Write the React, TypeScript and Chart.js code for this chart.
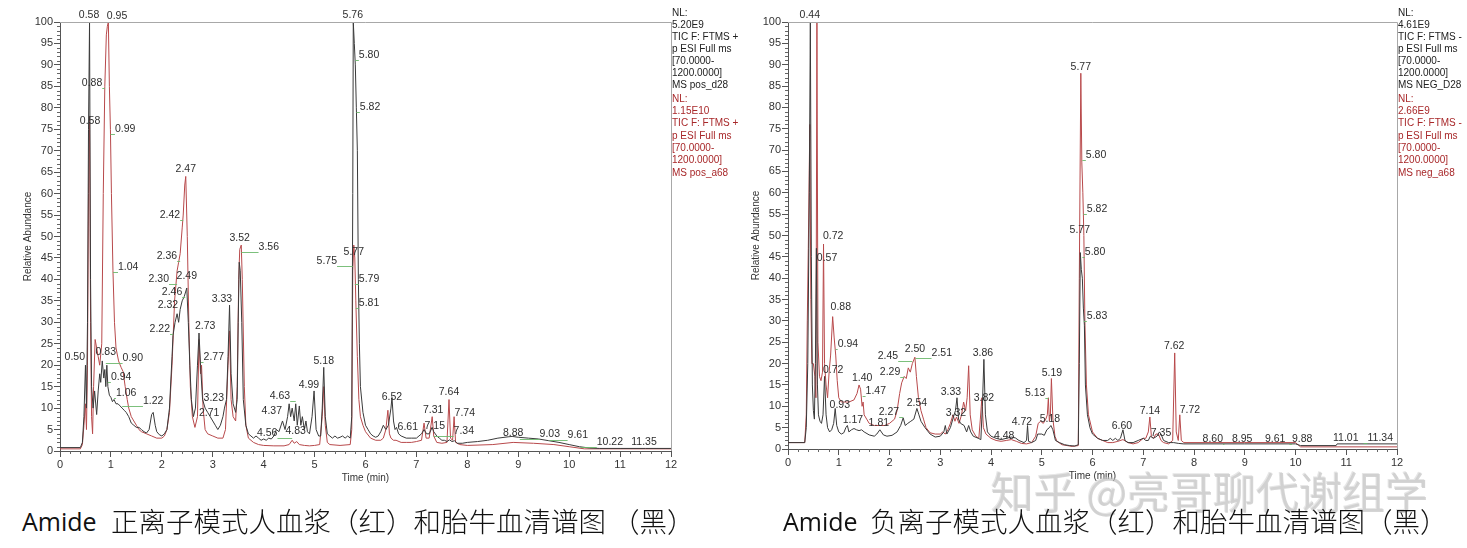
import React, { useEffect, useRef } from "react";
import { Chart, registerables } from "chart.js";

Chart.register(...registerables);

type Pt = [number, number];
type Lbl = [string, number, number];

// ---------- Positive mode (left) ----------
const posBlack: Pt[] = [
  [0, 0.8], [0.4, 0.8], [0.44, 2], [0.47, 8], [0.5, 20], [0.52, 10], [0.54, 30], [0.56, 75], [0.58, 100], [0.6, 40],
  [0.62, 15], [0.65, 10], [0.68, 14], [0.72, 8.5], [0.75, 14], [0.78, 18], [0.8, 16], [0.83, 21], [0.86, 17], [0.88, 19],
  [0.9, 15], [0.92, 20], [0.94, 15], [0.97, 13], [1.0, 12.5], [1.03, 11.5], [1.06, 12], [1.1, 11], [1.14, 11], [1.18, 10.5],
  [1.22, 10], [1.26, 9.5], [1.3, 9], [1.35, 8], [1.4, 6.5], [1.45, 6], [1.5, 5.5], [1.55, 5.5], [1.6, 5], [1.65, 4.5],
  [1.7, 4.2], [1.75, 5], [1.8, 8.5], [1.83, 9], [1.87, 6], [1.9, 4.5], [1.95, 3.8], [2.0, 3.5], [2.05, 4], [2.1, 5],
  [2.15, 10], [2.2, 22], [2.22, 27], [2.26, 30], [2.3, 32], [2.33, 30], [2.36, 33], [2.4, 35], [2.44, 36], [2.49, 38],
  [2.52, 30], [2.55, 20], [2.58, 12], [2.62, 8], [2.66, 10], [2.7, 20], [2.73, 27.5], [2.76, 20], [2.8, 12], [2.85, 10],
  [2.9, 9], [2.95, 8], [3.0, 7], [3.05, 6], [3.1, 5], [3.15, 6], [3.2, 8], [3.23, 10], [3.27, 12], [3.3, 22],
  [3.33, 34], [3.36, 18], [3.4, 11], [3.45, 9], [3.48, 12], [3.5, 30], [3.52, 44], [3.54, 42], [3.57, 30], [3.6, 12],
  [3.65, 6], [3.7, 4], [3.75, 3.5], [3.8, 3], [3.85, 3.5], [3.9, 3], [3.95, 2.5], [4.0, 2.8], [4.05, 2.5], [4.1, 3],
  [4.15, 2.8], [4.2, 3.5], [4.25, 5], [4.3, 4.5], [4.37, 7], [4.42, 5], [4.47, 8], [4.5, 11], [4.53, 8], [4.56, 10],
  [4.6, 7], [4.63, 11], [4.66, 6], [4.7, 10.5], [4.73, 6], [4.76, 8], [4.8, 5], [4.83, 7], [4.86, 4.5], [4.9, 4],
  [4.95, 8], [4.99, 14], [5.03, 5], [5.08, 3.5], [5.12, 3.5], [5.15, 10], [5.18, 19.5], [5.21, 8], [5.25, 4], [5.3, 3.5],
  [5.35, 3], [5.4, 3.5], [5.45, 3], [5.5, 3.2], [5.55, 3.5], [5.6, 3], [5.65, 3.5], [5.7, 3], [5.73, 8], [5.75, 60],
  [5.76, 100], [5.78, 95], [5.8, 90], [5.82, 80], [5.84, 70], [5.86, 40], [5.88, 25], [5.9, 15], [5.95, 9], [6.0, 6],
  [6.05, 5], [6.1, 4], [6.15, 3.5], [6.2, 3.2], [6.25, 3.5], [6.3, 4.5], [6.35, 6], [6.4, 5], [6.45, 6], [6.5, 10],
  [6.52, 12.5], [6.55, 7], [6.58, 5], [6.61, 5.5], [6.65, 4], [6.7, 3.5], [6.8, 3], [6.9, 3], [7.0, 3], [7.05, 3.5],
  [7.1, 4], [7.15, 5], [7.2, 4], [7.25, 4], [7.31, 5.5], [7.34, 4.5], [7.4, 3.5], [7.45, 3], [7.5, 2.5], [7.55, 2.5],
  [7.6, 2.2], [7.65, 2.6], [7.7, 2.2], [7.75, 2.4], [7.8, 1.8], [7.9, 1.8], [8.0, 2], [8.2, 2.2], [8.4, 2.5], [8.6, 3],
  [8.8, 3.3], [8.88, 3.4], [9.0, 3.2], [9.2, 3], [9.4, 2.8], [9.6, 2.4], [9.8, 2], [10.0, 1.5], [10.2, 1], [10.4, 0.7],
  [10.6, 0.6], [11.0, 0.6], [11.5, 0.6], [12, 0.6],
];

const posRed: Pt[] = [
  [0, 0.5], [0.4, 0.5], [0.44, 1.5], [0.47, 6], [0.5, 11], [0.52, 5], [0.54, 20], [0.56, 60], [0.58, 78], [0.6, 30],
  [0.62, 8], [0.64, 4], [0.66, 15], [0.69, 26], [0.72, 24], [0.75, 22], [0.78, 20], [0.82, 25], [0.85, 60], [0.88, 85],
  [0.91, 97], [0.93, 99], [0.95, 100], [0.97, 85], [0.99, 75], [1.01, 60], [1.04, 42], [1.07, 30], [1.1, 24], [1.15, 21],
  [1.2, 19.5], [1.24, 18.5], [1.28, 15], [1.32, 12], [1.35, 10], [1.4, 8], [1.45, 7], [1.5, 6], [1.55, 5], [1.6, 4.5],
  [1.7, 4], [1.8, 3.5], [1.9, 3], [2.0, 3], [2.05, 3.5], [2.1, 5], [2.15, 9], [2.2, 20], [2.25, 35], [2.3, 42],
  [2.33, 44], [2.36, 46], [2.4, 52], [2.42, 55], [2.45, 62], [2.47, 64], [2.5, 50], [2.53, 30], [2.56, 15], [2.6, 8],
  [2.65, 5.5], [2.7, 8], [2.73, 26], [2.76, 18], [2.78, 20], [2.81, 10], [2.85, 5], [2.9, 4], [3.0, 3.5], [3.1, 3],
  [3.2, 3], [3.25, 5], [3.3, 20], [3.33, 28], [3.36, 12], [3.4, 8], [3.45, 7], [3.48, 15], [3.51, 40], [3.53, 47],
  [3.56, 48], [3.58, 40], [3.62, 15], [3.65, 6], [3.7, 3], [3.8, 2], [3.9, 1.5], [4.0, 1.3], [4.2, 1.2], [4.4, 1.2],
  [4.5, 1.5], [4.56, 2.5], [4.6, 1.8], [4.65, 2.2], [4.7, 1.5], [4.8, 1.3], [4.9, 1.2], [5.0, 1.3], [5.1, 1.5], [5.15, 8],
  [5.18, 15], [5.21, 6], [5.25, 2], [5.3, 1.5], [5.5, 1.3], [5.7, 1.5], [5.73, 5], [5.75, 42], [5.77, 48], [5.79, 45],
  [5.81, 35], [5.84, 22], [5.87, 12], [5.9, 8], [5.95, 6], [6.0, 4.5], [6.1, 3], [6.2, 2.5], [6.3, 2.5], [6.35, 3],
  [6.4, 5], [6.44, 9.5], [6.47, 4], [6.5, 3], [6.55, 2.5], [6.6, 2.5], [6.7, 2], [6.8, 2], [6.9, 2], [7.0, 2.2],
  [7.1, 2.5], [7.15, 6.5], [7.19, 3], [7.25, 3], [7.31, 8], [7.34, 3.5], [7.4, 2], [7.5, 1.8], [7.6, 2], [7.64, 12],
  [7.67, 3], [7.71, 2.5], [7.74, 8], [7.77, 2], [7.85, 1.5], [8.0, 1.3], [8.5, 1.5], [8.9, 2], [9.3, 1.8], [9.7, 1.5],
  [10.0, 1], [10.3, 0.5], [12, 0.5],
];

const posLabels: Lbl[] = [
  ["0.58", 0.57, 101.6], ["0.95", 1.12, 101.4], ["5.76", 5.75, 101.6], ["0.88", 0.63, 85.8], ["0.58", 0.59, 76.9],
  ["0.99", 1.28, 75.1], ["2.47", 2.47, 65.7], ["2.42", 2.16, 55.0], ["3.52", 3.53, 49.7], ["3.56", 4.1, 47.6],
  ["5.80", 6.07, 92.3], ["5.82", 6.09, 80.2], ["1.04", 1.34, 42.9], ["2.36", 2.1, 45.5], ["2.30", 1.94, 40.1],
  ["2.49", 2.49, 40.8], ["2.46", 2.2, 37.1], ["2.32", 2.12, 34.0], ["2.22", 1.96, 28.4], ["3.33", 3.18, 35.4],
  ["2.73", 2.85, 29.1], ["2.77", 3.02, 21.9], ["0.50", 0.29, 21.9], ["0.83", 0.9, 23.1], ["0.90", 1.43, 21.7],
  ["0.94", 1.2, 17.2], ["1.06", 1.3, 13.5], ["1.22", 1.83, 11.7], ["3.23", 3.02, 12.4], ["2.71", 2.93, 8.9],
  ["4.63", 4.32, 12.8], ["4.37", 4.16, 9.3], ["4.99", 4.89, 15.4], ["5.18", 5.18, 21.0], ["4.56", 4.07, 4.2],
  ["4.83", 4.63, 4.7], ["5.75", 5.24, 44.3], ["5.77", 5.77, 46.4], ["5.79", 6.07, 40.1], ["5.81", 6.07, 34.5],
  ["6.52", 6.52, 12.6], ["6.61", 6.83, 5.6], ["7.31", 7.33, 9.6], ["7.15", 7.36, 5.8], ["7.64", 7.64, 13.8],
  ["7.74", 7.95, 8.9], ["7.34", 7.93, 4.7], ["8.88", 8.9, 4.2], ["9.03", 9.62, 4.0], ["9.61", 10.17, 3.7],
  ["10.22", 10.8, 2.1], ["11.35", 11.47, 2.1],
];

const posLegendBlack = ["NL:", "5.20E9", "TIC F: FTMS +", "p ESI Full ms", "[70.0000-", "1200.0000]", "MS pos_d28"];
const posLegendRed = ["NL:", "1.15E10", "TIC F: FTMS +", "p ESI Full ms", "[70.0000-", "1200.0000]", "MS pos_a68"];

// ---------- Negative mode (right) ----------
const negBlack: Pt[] = [
  [0, 1.5], [0.33, 1.5], [0.36, 5], [0.39, 20], [0.42, 60], [0.44, 100], [0.46, 45], [0.48, 15], [0.5, 9], [0.52, 7],
  [0.54, 20], [0.56, 47], [0.58, 15], [0.6, 8], [0.63, 6.5], [0.66, 6], [0.69, 8], [0.72, 17], [0.75, 8], [0.78, 5],
  [0.82, 4], [0.86, 4.5], [0.9, 6], [0.93, 9.5], [0.96, 5.5], [1.0, 4], [1.05, 3.5], [1.1, 3.8], [1.14, 5], [1.17, 5.5],
  [1.2, 4], [1.25, 4.5], [1.3, 4.8], [1.35, 4.5], [1.4, 4.3], [1.45, 4.5], [1.5, 4], [1.6, 3.3], [1.7, 3], [1.75, 3.5],
  [1.81, 4.5], [1.88, 3.3], [1.95, 3], [2.05, 3.2], [2.15, 4], [2.22, 5.5], [2.27, 7.3], [2.31, 5.5], [2.36, 6], [2.42, 6.5],
  [2.48, 7], [2.54, 9.5], [2.58, 8], [2.62, 6.5], [2.7, 5], [2.8, 3.5], [2.9, 2.8], [3.0, 3], [3.07, 4], [3.1, 5.5],
  [3.13, 3.5], [3.2, 5], [3.26, 7.5], [3.3, 9], [3.33, 12], [3.36, 7], [3.4, 6], [3.47, 5.5], [3.52, 4], [3.56, 5.5],
  [3.6, 4], [3.65, 3], [3.75, 2.5], [3.8, 2.2], [3.83, 10], [3.86, 21], [3.89, 8], [3.93, 4], [4.0, 3], [4.1, 2.5],
  [4.2, 2.2], [4.3, 2.5], [4.4, 2.8], [4.48, 2.6], [4.55, 2], [4.65, 1.5], [4.7, 2], [4.72, 5.5], [4.74, 1.8], [4.8, 1.5],
  [4.88, 2], [4.92, 3.5], [5.0, 3.5], [5.05, 3.2], [5.1, 4.5], [5.15, 5], [5.18, 5.5], [5.22, 4.5], [5.27, 2], [5.35, 1.5],
  [5.45, 1], [5.55, 0.8], [5.65, 0.7], [5.72, 1], [5.74, 20], [5.76, 46], [5.78, 42], [5.8, 40], [5.82, 33], [5.84, 29],
  [5.86, 15], [5.9, 8], [5.95, 5], [6.0, 3.5], [6.1, 2.5], [6.2, 2], [6.3, 2], [6.35, 2.5], [6.4, 2], [6.45, 2.5],
  [6.5, 2], [6.55, 2.5], [6.6, 4.5], [6.64, 2], [6.7, 1.5], [6.8, 1.5], [6.9, 2], [7.0, 2.5], [7.05, 2], [7.1, 2],
  [7.14, 3], [7.2, 2.5], [7.27, 3], [7.32, 4], [7.35, 3.5], [7.4, 2], [7.5, 1.5], [7.6, 1.5], [7.7, 1.3], [7.8, 1.2],
  [8.0, 1.2], [9.0, 1.2], [10.0, 1.2], [10.1, 0.8], [10.8, 0.8], [10.82, 1.2], [12, 1.2],
];

const negRed: Pt[] = [
  [0, 1.5], [0.33, 1.5], [0.36, 8], [0.38, 30], [0.4, 47], [0.43, 76], [0.45, 35], [0.47, 20], [0.5, 20], [0.53, 17],
  [0.55, 12], [0.57, 100], [0.59, 25], [0.62, 17], [0.65, 16], [0.68, 18], [0.7, 48], [0.72, 20], [0.75, 15], [0.78, 12],
  [0.81, 18], [0.84, 22], [0.88, 31], [0.91, 26], [0.94, 22], [0.97, 16], [1.0, 12], [1.05, 11], [1.1, 11], [1.2, 11],
  [1.3, 11.5], [1.36, 13], [1.4, 15], [1.43, 14], [1.46, 10], [1.48, 11], [1.5, 8], [1.55, 7], [1.6, 6], [1.7, 5.5],
  [1.8, 5.5], [1.9, 5.5], [2.0, 6], [2.1, 7], [2.15, 9], [2.2, 13], [2.24, 15.5], [2.29, 17], [2.33, 16.5], [2.37, 19],
  [2.41, 18], [2.45, 20], [2.5, 21.5], [2.53, 17], [2.57, 12], [2.62, 9], [2.67, 7], [2.72, 5], [2.8, 3.8], [2.9, 3.5],
  [3.0, 3.5], [3.05, 4], [3.1, 3.5], [3.15, 4.5], [3.2, 6], [3.25, 8], [3.29, 6.5], [3.32, 7.5], [3.37, 6], [3.42, 8],
  [3.46, 11], [3.5, 9], [3.53, 12], [3.56, 19.5], [3.59, 8], [3.63, 4.5], [3.7, 3], [3.76, 2.5], [3.79, 7], [3.82, 12],
  [3.85, 5], [3.9, 3.5], [4.0, 2.5], [4.1, 2], [4.2, 1.8], [4.3, 2], [4.4, 2.2], [4.5, 1.8], [4.6, 1.3], [4.7, 1.2],
  [4.8, 1.5], [4.88, 3], [4.93, 6], [4.98, 6.5], [5.03, 6], [5.08, 7], [5.11, 8], [5.13, 12], [5.15, 6.5], [5.17, 8],
  [5.19, 16.5], [5.22, 7], [5.26, 3], [5.3, 1.8], [5.4, 1], [5.5, 0.8], [5.6, 0.6], [5.72, 0.8], [5.74, 40], [5.77, 88],
  [5.79, 67], [5.81, 60], [5.83, 50], [5.85, 30], [5.88, 15], [5.92, 8], [6.0, 4], [6.1, 2.5], [6.2, 2], [6.3, 1.5],
  [6.4, 1.5], [6.5, 1.8], [6.6, 2.2], [6.7, 1.5], [6.8, 1.2], [6.9, 1.5], [7.0, 2.5], [7.05, 2.5], [7.1, 4], [7.13, 7.5],
  [7.16, 3], [7.2, 2.5], [7.25, 3.5], [7.3, 3.5], [7.35, 2], [7.4, 1.5], [7.5, 1.2], [7.58, 2], [7.62, 22.5], [7.65, 4],
  [7.69, 2], [7.72, 8], [7.75, 2], [7.8, 1.5], [8.0, 1.5], [9.0, 1.5], [10.0, 1.5], [10.1, 0.5], [12, 0.5],
];

const negLabels: Lbl[] = [
  ["0.44", 0.43, 101.6], ["5.77", 5.77, 89.5], ["5.80", 6.07, 68.9], ["5.82", 6.09, 56.2], ["5.77", 5.75, 51.3],
  ["5.80", 6.05, 46.1], ["5.83", 6.09, 31.1], ["0.72", 0.89, 49.9], ["0.57", 0.77, 44.7], ["0.88", 1.04, 33.2],
  ["0.94", 1.18, 24.6], ["0.72", 0.89, 18.5], ["1.40", 1.46, 16.6], ["1.47", 1.73, 13.6], ["0.93", 1.02, 10.3],
  ["1.17", 1.28, 6.8], ["1.81", 1.79, 6.1], ["2.27", 1.99, 8.7], ["2.54", 2.54, 10.8], ["2.29", 2.01, 18.0],
  ["2.45", 1.97, 21.8], ["2.50", 2.5, 23.4], ["2.51", 3.03, 22.5], ["3.86", 3.84, 22.5], ["3.33", 3.21, 13.4],
  ["3.82", 3.86, 12.0], ["3.32", 3.31, 8.5], ["4.48", 4.26, 3.0], ["4.72", 4.61, 6.3], ["5.19", 5.2, 17.8],
  ["5.13", 4.87, 13.0], ["5.18", 5.16, 7.0], ["6.60", 6.58, 5.4], ["7.14", 7.13, 8.9], ["7.35", 7.35, 3.7],
  ["7.62", 7.61, 24.1], ["7.72", 7.92, 9.1], ["8.60", 8.37, 2.3], ["8.95", 8.95, 2.3], ["9.61", 9.6, 2.3],
  ["9.88", 10.13, 2.3], ["11.01", 10.99, 2.5], ["11.34", 11.67, 2.5],
];

const negLegendBlack = ["NL:", "4.61E9", "TIC F: FTMS -", "p ESI Full ms", "[70.0000-", "1200.0000]", "MS NEG_D28"];
const negLegendRed = ["NL:", "2.66E9", "TIC F: FTMS -", "p ESI Full ms", "[70.0000-", "1200.0000]", "MS neg_a68"];

const xTickValues = [0, 1, 2, 3, 4, 5, 6, 7, 8, 9, 10, 11, 12];

const captionWord = "Amide";
const captionLeft = "正离子模式人血浆（红）和胎牛血清谱图 （黑）";
const captionRight = "负离子模式人血浆（红）和胎牛血清谱图（黑）";
const watermark = "知乎 @亮哥聊代谢组学";

const FONT = '"Liberation Sans", Arial, sans-serif';
const BLACK = "#3a3a3a";
const RED = "#b8494b";

interface ChromProps {
  left: number;
  width: number;
  height: number;
  padRight: number;
  black: Pt[];
  red: Pt[];
  labels: Lbl[];
  legendBlack: string[];
  legendRed: string[];
}

function Chromatogram(p: ChromProps) {
  const ref = useRef<HTMLCanvasElement | null>(null);
  useEffect(() => {
    if (!ref.current) return;
    const decor = {
      id: "decor",
      afterDraw(chart: any) {
        const { ctx, chartArea: a, scales } = chart;
        const xs = scales.x;
        const ys = scales.y;
        ctx.save();
        ctx.strokeStyle = "#a8a8a8";
        ctx.lineWidth = 1;
        ctx.beginPath();
        ctx.moveTo(a.left, a.top + 0.5);
        ctx.lineTo(a.right + 0.5, a.top + 0.5);
        ctx.lineTo(a.right + 0.5, a.bottom);
        ctx.stroke();
        ctx.strokeStyle = "#666";
        ctx.beginPath();
        for (let v = 1; v < 100; v++) {
          if (v % 5 === 0) continue;
          const y = Math.round(ys.getPixelForValue(v)) + 0.5;
          ctx.moveTo(a.left - 3, y);
          ctx.lineTo(a.left, y);
        }
        for (let k = 1; k < 60; k++) {
          if (k % 5 === 0) continue;
          const x = Math.round(xs.getPixelForValue(k / 5)) + 0.5;
          ctx.moveTo(x, a.bottom);
          ctx.lineTo(x, a.bottom + 3);
        }
        ctx.stroke();
        ctx.font = `10.5px ${FONT}`;
        ctx.textAlign = "center";
        ctx.textBaseline = "middle";
        for (const [txt, lx, ly] of p.labels) {
          const cx = xs.getPixelForValue(lx);
          const cy = ys.getPixelForValue(ly);
          const w = ctx.measureText(txt).width;
          const px = xs.getPixelForValue(parseFloat(txt));
          ctx.strokeStyle = "rgba(110,185,110,0.9)";
          ctx.beginPath();
          const yl = Math.round(cy + 5) + 0.5;
          if (px > cx + w / 2 + 1) {
            ctx.moveTo(cx + w / 2, yl);
            ctx.lineTo(px, yl);
          } else if (px < cx - w / 2 - 1) {
            ctx.moveTo(px, yl);
            ctx.lineTo(cx - w / 2, yl);
          }
          ctx.stroke();
          ctx.fillStyle = "#2e2e2e";
          ctx.fillText(txt, cx, cy);
        }
        ctx.font = `10px ${FONT}`;
        ctx.textAlign = "left";
        ctx.fillStyle = "#222";
        p.legendBlack.forEach((s, i) => ctx.fillText(s, a.right + 1, 13 + i * 12));
        ctx.fillStyle = "#a8282a";
        p.legendRed.forEach((s, i) => ctx.fillText(s, a.right + 1, 99 + i * 12.3));
        ctx.restore();
      },
    };
    const chart = new Chart(ref.current, {
      type: "line",
      data: {
        datasets: [
          {
            data: p.black.map(([x, y]) => ({ x, y })),
            borderColor: BLACK,
            borderWidth: 1,
            pointRadius: 0,
            tension: 0,
          },
          {
            data: p.red.map(([x, y]) => ({ x, y })),
            borderColor: RED,
            borderWidth: 1,
            pointRadius: 0,
            tension: 0,
          },
        ],
      },
      options: {
        animation: false,
        responsive: false,
        maintainAspectRatio: false,
        events: [],
        layout: { padding: { top: 22, right: p.padRight, left: 0, bottom: 0 } },
        plugins: { legend: { display: false }, tooltip: { enabled: false }, title: { display: false } },
        scales: {
          x: {
            type: "linear",
            min: 0,
            max: 12,
            afterBuildTicks: (s: any) => {
              s.ticks = xTickValues.map((v) => ({ value: v }));
            },
            ticks: { color: "#333", font: { size: 11, family: FONT }, padding: 1, maxRotation: 0, autoSkip: false },
            grid: { drawOnChartArea: false, tickLength: 6, tickColor: "#555" },
            border: { color: "#555" },
            title: {
              display: true,
              text: "Time (min)",
              color: "#333",
              font: { size: 10, family: FONT },
              padding: { top: 0, bottom: 6 },
            },
            afterFit: (s: any) => {
              s.height = 39;
            },
          },
          y: {
            min: 0,
            max: 100,
            ticks: { stepSize: 5, color: "#333", font: { size: 11, family: FONT }, padding: 1, autoSkip: false },
            grid: { drawOnChartArea: false, tickLength: 6, tickColor: "#555" },
            border: { color: "#555" },
            title: {
              display: true,
              text: "Relative Abundance",
              color: "#333",
              font: { size: 10, family: FONT },
              padding: { top: 22, bottom: 0 },
            },
            afterFit: (s: any) => {
              s.width = 60;
            },
          },
        },
      } as any,
      plugins: [decor],
    });
    return () => chart.destroy();
  }, []);
  return (
    <canvas
      ref={ref}
      width={p.width}
      height={p.height}
      style={{ position: "absolute", left: p.left, top: 0, width: p.width, height: p.height }}
    />
  );
}

export default function App() {
  const word: React.CSSProperties = {
    position: "absolute",
    top: 505,
    fontSize: 25,
    lineHeight: "32px",
    whiteSpace: "pre",
    color: "#111",
    fontFamily: '"Open Sans", "Noto Sans", sans-serif',
  };
  const cjk: React.CSSProperties = {
    position: "absolute",
    top: 504,
    fontSize: 27.5,
    lineHeight: "32px",
    whiteSpace: "pre",
    color: "#111",
    fontFamily: '"Noto Sans CJK SC", sans-serif',
    fontWeight: 300,
  };
  return (
    <div
      style={{
        position: "absolute",
        left: 0,
        top: 0,
        width: 1467,
        height: 548,
        background: "#fff",
        overflow: "hidden",
      }}
    >
      <Chromatogram
        left={0}
        width={745}
        height={490}
        padRight={74}
        black={posBlack}
        red={posRed}
        labels={posLabels}
        legendBlack={posLegendBlack}
        legendRed={posLegendRed}
      />
      <Chromatogram
        left={728}
        width={739}
        height={488}
        padRight={70}
        black={negBlack}
        red={negRed}
        labels={negLabels}
        legendBlack={negLegendBlack}
        legendRed={negLegendRed}
      />
      <div
        style={{
          position: "absolute",
          left: 990,
          top: 465,
          fontSize: 43,
          lineHeight: "48px",
          whiteSpace: "pre",
          color: "rgba(205,205,205,0.5)",
          fontFamily: '"Noto Sans CJK SC", sans-serif',
          textShadow: "1px 1px 0 rgba(150,150,150,0.4)",
        }}
      >
        {watermark}
      </div>
      <div style={{ ...word, left: 22 }}>{captionWord}</div>
      <div style={{ ...cjk, left: 111 }}>{captionLeft}</div>
      <div style={{ ...word, left: 783 }}>{captionWord}</div>
      <div style={{ ...cjk, left: 870 }}>{captionRight}</div>
    </div>
  );
}
